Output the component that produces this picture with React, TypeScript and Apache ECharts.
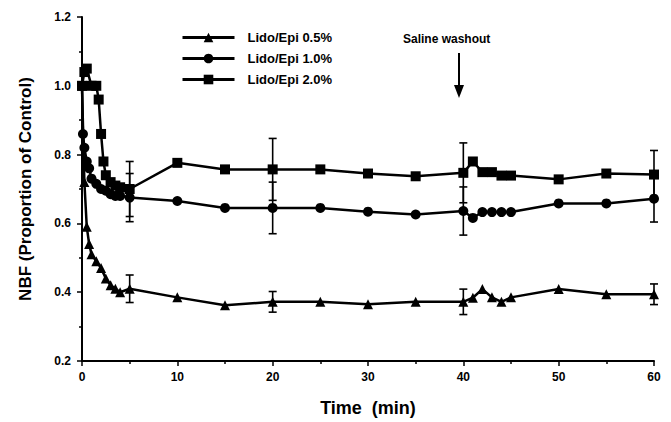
import React, { useEffect, useRef } from "react";
import * as echarts from "echarts";

const xTickInterval = 10;
const yTickInterval = 0.2;

const lido05Time = [0, 0.25, 0.5, 0.75, 1, 1.5, 2, 2.5, 3, 3.5, 4, 5, 10, 15, 20, 25, 30, 35, 40, 41, 42, 43, 44, 45, 50, 55, 60];
const lido05Value = [1.0, 0.72, 0.59, 0.54, 0.51, 0.49, 0.47, 0.44, 0.42, 0.41, 0.40, 0.41, 0.385, 0.362, 0.372, 0.372, 0.365, 0.372, 0.372, 0.384, 0.409, 0.385, 0.372, 0.385, 0.409, 0.394, 0.394];

const lido10Time = [0, 0.1, 0.25, 0.5, 0.75, 1, 1.5, 2, 2.5, 3, 3.5, 4, 5, 10, 15, 20, 25, 30, 35, 40, 41, 42, 43, 44, 45, 50, 55, 60];
const lido10Value = [1.0, 0.86, 0.82, 0.78, 0.76, 0.73, 0.715, 0.70, 0.695, 0.685, 0.68, 0.68, 0.675, 0.665, 0.645, 0.645, 0.645, 0.634, 0.626, 0.636, 0.616, 0.633, 0.633, 0.633, 0.633, 0.658, 0.658, 0.672];

const lido20Time = [0, 0.25, 0.5, 1, 1.5, 1.75, 2, 2.25, 2.5, 3, 3.5, 4, 5, 10, 15, 20, 25, 30, 35, 40, 41, 42, 43, 44, 45, 50, 55, 60];
const lido20Value = [1.0, 1.04, 1.05, 1.0, 1.0, 0.96, 0.86, 0.78, 0.74, 0.72, 0.71, 0.705, 0.70, 0.776, 0.757, 0.757, 0.757, 0.745, 0.737, 0.747, 0.78, 0.749, 0.749, 0.739, 0.739, 0.728, 0.745, 0.742];

const errTime = [5, 20, 40, 60];
const lido05Err = [0.04, 0.03, 0.037, 0.03];
const lido10Err = [0.07, 0.075, 0.07, 0.068];
const lido20Err = [0.08, 0.09, 0.087, 0.07];

const seriesNames = ["Lido/Epi 0.5%", "Lido/Epi 1.0%", "Lido/Epi 2.0%"];
const seriesSymbols = ["triangle", "circle", "rect"];

const FONT = "'Liberation Sans', Arial, Helvetica, sans-serif";

function pairs(t: number[], v: number[]) {
  return t.map((x, i) => [x, v[i]]);
}

function errData(t: number[], v: number[], e: number[]) {
  return errTime.map((x, i) => {
    const idx = t.indexOf(x);
    const y = v[idx];
    return [x, y - e[i], y + e[i]];
  });
}

const renderErr = (params: any, api: any) => {
  const x = api.value(0);
  const lo = api.coord([x, api.value(1)]);
  const hi = api.coord([x, api.value(2)]);
  const w = 4;
  const st = { stroke: "#000", lineWidth: 1.6 };
  return {
    type: "group",
    children: [
      { type: "line", shape: { x1: hi[0], y1: hi[1], x2: lo[0], y2: lo[1] }, style: st },
      { type: "line", shape: { x1: hi[0] - w, y1: hi[1], x2: hi[0] + w, y2: hi[1] }, style: st },
      { type: "line", shape: { x1: lo[0] - w, y1: lo[1], x2: lo[0] + w, y2: lo[1] }, style: st },
    ],
  };
};

export default function App() {
  const ref = useRef<HTMLDivElement>(null);
  useEffect(() => {
    if (!ref.current) return;
    const chart = echarts.init(ref.current, null, { renderer: "svg" });
    const values = [pairs(lido05Time, lido05Value), pairs(lido10Time, lido10Value), pairs(lido20Time, lido20Value)];
    const errs = [
      errData(lido05Time, lido05Value, lido05Err),
      errData(lido10Time, lido10Value, lido10Err),
      errData(lido20Time, lido20Value, lido20Err),
    ];
    const lineSeries = seriesNames.map((name, i) => ({
      name,
      type: "line",
      data: values[i],
      symbol: seriesSymbols[i],
      symbolSize: 10,
      showAllSymbol: true,
      itemStyle: { color: "#000" },
      lineStyle: { color: "#000", width: 2.5 },
      z: 3,
    }));
    const errSeries = errs.map((d) => ({
      type: "custom",
      renderItem: renderErr,
      data: d,
      encode: { x: 0, y: [1, 2] },
      z: 2,
      silent: true,
    }));
    chart.setOption({
      animation: false,
      backgroundColor: "#fff",
      grid: { left: 82, right: 17, top: 17, bottom: 57 },
      xAxis: {
        type: "value",
        min: 0,
        max: 60,
        interval: xTickInterval,
        name: "Time  (min)",
        nameLocation: "middle",
        nameGap: 38,
        nameTextStyle: { fontFamily: FONT, fontWeight: "bold", fontSize: 18, color: "#000" },
        axisLine: { lineStyle: { color: "#000", width: 2 } },
        axisTick: { show: true, length: 5, lineStyle: { color: "#000", width: 1.5 } },
        minorTick: { show: true, splitNumber: 2, length: 3, lineStyle: { color: "#000", width: 1.5 } },
        splitLine: { show: false },
        axisLabel: { fontFamily: FONT, fontWeight: "bold", fontSize: 12, color: "#000", margin: 10 },
      },
      yAxis: {
        type: "value",
        min: 0.2,
        max: 1.2,
        interval: yTickInterval,
        name: "NBF (Proportion of Control)",
        nameLocation: "middle",
        nameGap: 48,
        nameTextStyle: { fontFamily: FONT, fontWeight: "bold", fontSize: 17, color: "#000" },
        axisLine: { show: true, lineStyle: { color: "#000", width: 2 } },
        axisTick: { show: true, length: 5, lineStyle: { color: "#000", width: 1.5 } },
        minorTick: { show: true, splitNumber: 2, length: 3, lineStyle: { color: "#000", width: 1.5 } },
        splitLine: { show: false },
        axisLabel: {
          fontFamily: FONT,
          fontWeight: "bold",
          fontSize: 12,
          color: "#000",
          margin: 11,
          formatter: (v: number) => v.toFixed(1),
        },
      },
      legend: {
        data: seriesNames,
        orient: "vertical",
        left: 176,
        top: 26,
        itemWidth: 52,
        itemHeight: 12,
        itemGap: 8,
        lineStyle: { width: 3 },
        textStyle: { fontFamily: FONT, fontWeight: "bold", fontSize: 13, color: "#000", padding: [0, 0, 0, 8] },
      },
      graphic: [
        {
          type: "text",
          left: 403,
          top: 33,
          style: { text: "Saline washout", fontFamily: FONT, fontWeight: "bold", fontSize: 12, fill: "#000" },
        },
        {
          type: "line",
          shape: { x1: 459, y1: 53, x2: 459, y2: 88 },
          style: { stroke: "#000", lineWidth: 2 },
        },
        {
          type: "polygon",
          shape: { points: [[454, 85], [464, 85], [459, 98]] },
          style: { fill: "#000" },
        },
      ],
      series: [...errSeries, ...lineSeries],
    });
    return () => chart.dispose();
  }, []);
  return <div ref={ref} style={{ position: "fixed", left: 0, top: 0, width: 671, height: 422 }} />;
}
